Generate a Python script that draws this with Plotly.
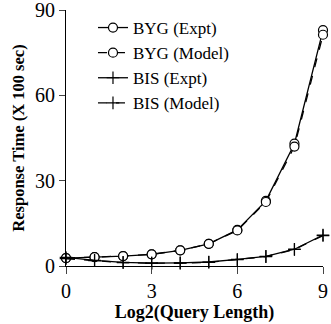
import plotly.graph_objects as go

x = [0, 1, 2, 3, 4, 5, 6, 7, 8, 9]
byg_expt = [2.8, 3.1, 3.5, 4.1, 5.5, 7.8, 12.7, 22.9, 43.0, 82.9]
byg_model = [2.8, 3.1, 3.5, 4.1, 5.5, 7.8, 12.5, 22.5, 42.0, 81.3]
bis_expt = [3.0, 2.0, 1.3, 1.0, 1.1, 1.4, 2.3, 3.4, 5.9, 10.9]
bis_model = [2.6, 1.9, 1.2, 1.0, 1.0, 1.3, 2.2, 3.3, 5.8, 10.7]
x_ticks = [0, 3, 6, 9]
y_ticks = [0, 30, 60, 90]

FONT = "Liberation Serif"
fig = go.Figure()

def add(name, y, dash, symbol, size, fill):
    fig.add_trace(go.Scatter(
        x=x, y=y, name=name, mode="lines+markers",
        line=dict(color="black", width=1.3, dash=dash),
        marker=dict(symbol=symbol, size=size, color=fill,
                    line=dict(color="black", width=1.2)),
        cliponaxis=False,
    ))

add("BYG (Expt)", byg_expt, "solid", "circle", 9, "white")
add("BYG (Model)", byg_model, "dash", "circle", 9, "white")
add("BIS (Expt)", bis_expt, "solid", "cross-thin", 9, "black")
add("BIS (Model)", bis_model, "dash", "cross-thin", 9, "black")

fig.update_layout(
    width=331, height=324,
    margin=dict(l=66, r=8, t=10, b=58),
    paper_bgcolor="white", plot_bgcolor="white",
    font=dict(family=FONT, color="black", size=20),
    showlegend=True,
    legend=dict(x=0.105, y=1.0, xanchor="left", yanchor="top",
                font=dict(family=FONT, size=17, color="black"),
                bgcolor="rgba(0,0,0,0)", tracegroupgap=0, itemwidth=30),
    xaxis=dict(range=[0, 9], tickvals=x_ticks, ticks="outside", ticklen=7,
               showline=True, linecolor="black", linewidth=1, showgrid=False,
               zeroline=False, tickfont=dict(family=FONT, size=20),
               ticklabeloverflow="allow", automargin=False,
               title=dict(text="<b>Log2(Query Length)</b>",
                          font=dict(family=FONT, size=18), standoff=4)),
    yaxis=dict(range=[0, 90], tickvals=y_ticks, ticks="outside", ticklen=6,
               showline=True, linecolor="black", linewidth=1, showgrid=False,
               zeroline=False, tickfont=dict(family=FONT, size=20),
               ticklabeloverflow="allow", automargin=False,
               title=dict(text="<b>Response Time (X 100 sec)</b>",
                          font=dict(family=FONT, size=16.5), standoff=6)),
)

fig.write_html("out.html")
